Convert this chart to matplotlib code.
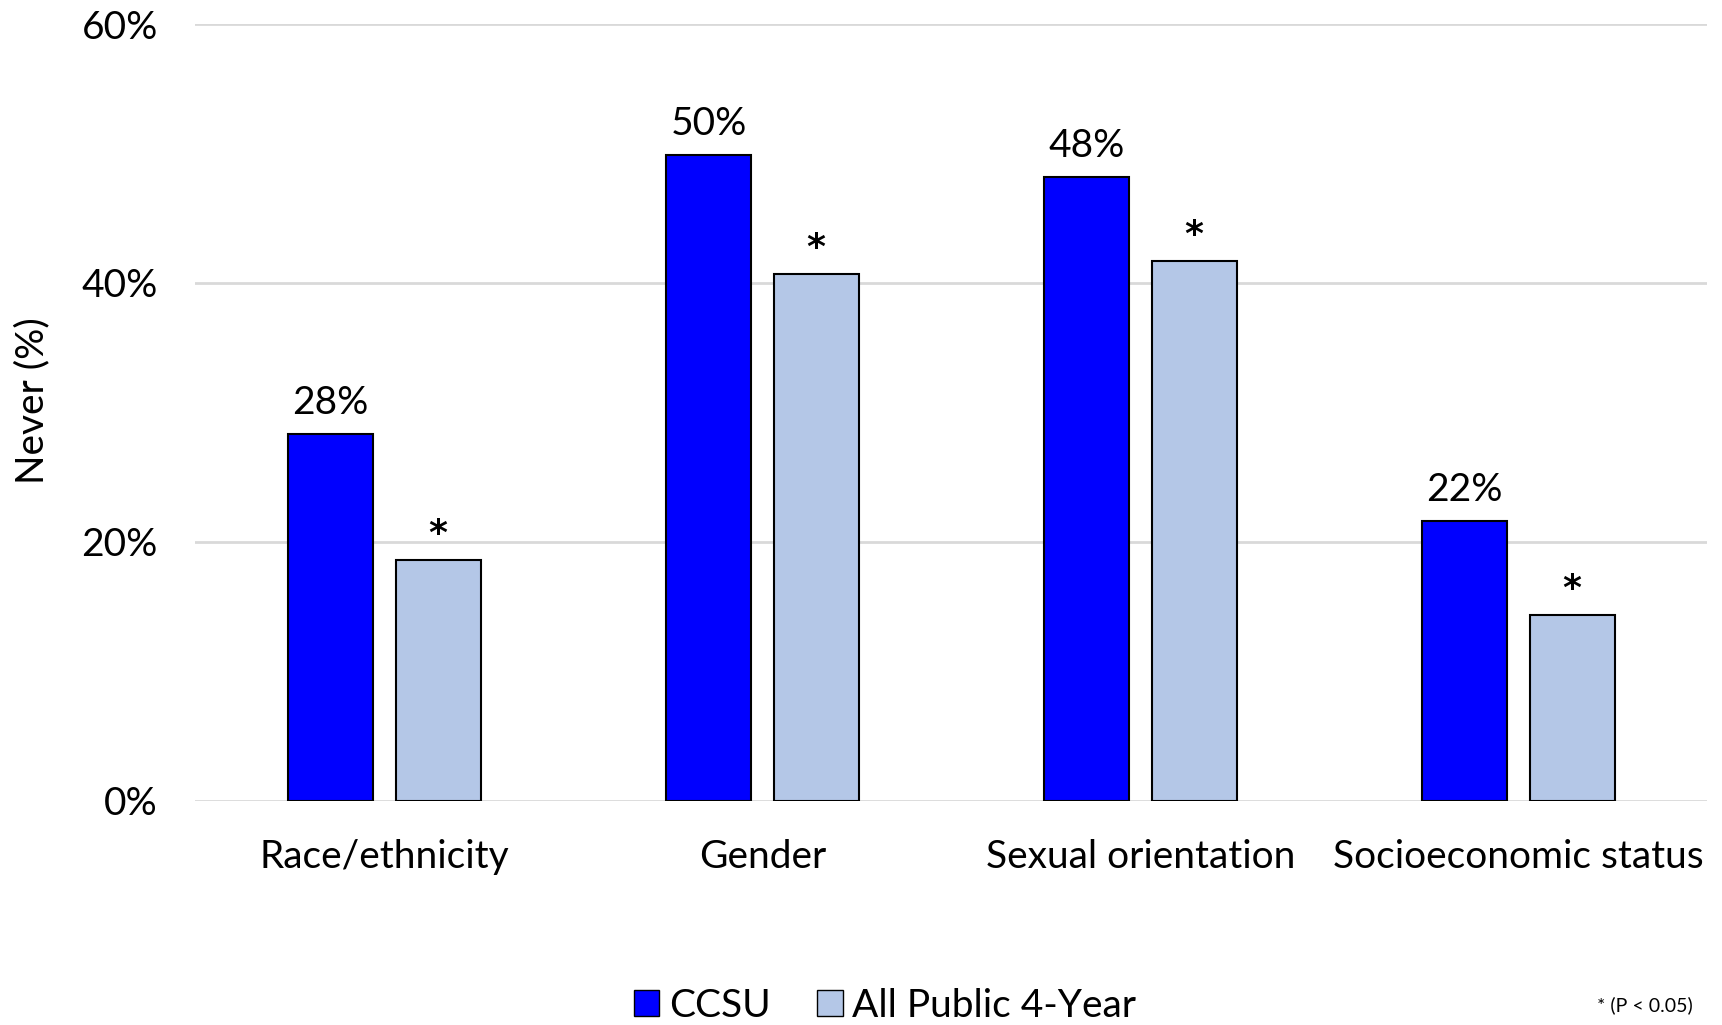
import matplotlib
matplotlib.use("Agg")
import matplotlib.pyplot as plt
import numpy as np
from matplotlib.patches import Patch

categories = ["Race/ethnicity", "Gender", "Sexual orientation", "Socioeconomic status"]
ccsu = [28.3, 49.9, 48.2, 21.6]
public4 = [18.6, 40.7, 41.7, 14.3]
ccsu_labels = ["28%", "50%", "48%", "22%"]
sig_marks = ["*", "*", "*", "*"]
series_names = ["CCSU", "All Public 4-Year"]
yticks = [0, 20, 40, 60]
ytick_labels = ["0%", "20%", "40%", "60%"]

plt.rcParams['font.family'] = ['Lato', 'DejaVu Sans']
FS = 28

fig = plt.figure(figsize=(17.22, 10.25), dpi=100)
ax = fig.add_axes([0.1135, 0.219, 0.878, 0.7575])

x = np.arange(len(categories))
w = 0.225
off = 0.142
c1 = "#0000FF"
c2 = "#B4C7E7"
ax.bar(x - off, ccsu, w, color=c1, edgecolor="black", linewidth=1.5, zorder=3)
ax.bar(x + off, public4, w, color=c2, edgecolor="black", linewidth=1.5, zorder=3)

for i in range(len(categories)):
    ax.text(x[i] - off, ccsu[i] + 1.0, ccsu_labels[i], ha="center", va="bottom", fontsize=FS)
    ax.text(x[i] + off, public4[i] + 0.7, sig_marks[i], ha="center", va="bottom",
            fontsize=26, family="DejaVu Sans", fontweight="bold")

ax.set_xlim(-0.5, len(categories) - 0.5)
ax.set_ylim(0, 60)
ax.set_yticks(yticks)
ax.set_yticklabels(ytick_labels, fontsize=FS)
ax.set_xticks(x)
ax.set_xticklabels(categories, fontsize=FS)
ax.tick_params(axis="both", length=0)
ax.tick_params(axis="x", pad=28)
ax.tick_params(axis="y", pad=27)
ax.yaxis.grid(True, color="#D9D9D9", linewidth=2.0, zorder=0)
ax.set_axisbelow(True)
for s in ax.spines.values():
    s.set_visible(False)
fig.text(0.019, 0.609, "Never (%)", rotation=90, ha="center", va="center", fontsize=FS)

handles = [Patch(facecolor=c1, edgecolor="black", label=series_names[0]),
           Patch(facecolor=c2, edgecolor="black", label=series_names[1])]
fig.legend(handles=handles, loc="center", bbox_to_anchor=(0.514, 0.019), ncol=2,
           frameon=False, fontsize=FS, handlelength=0.65, handleheight=0.65,
           handletextpad=0.25, columnspacing=1.2)
fig.text(0.983, 0.019, "* (P < 0.05)", ha="right", va="center", fontsize=14)

fig.savefig("out.png", dpi=100)
